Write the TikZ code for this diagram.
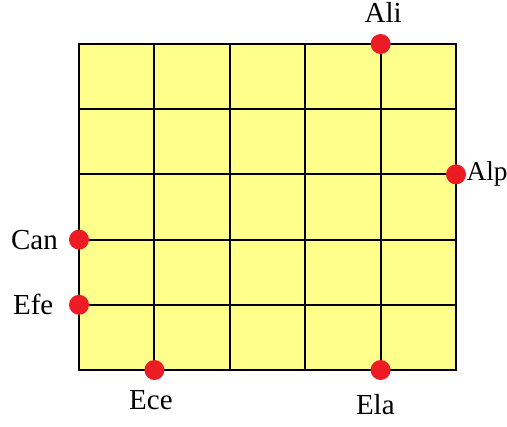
\documentclass[tikz,border=0pt]{standalone}
\usepackage{fontspec}
\setmainfont{Liberation Serif}
\usepackage{xcolor}
\usepackage{tikz}
\usetikzlibrary{
  positioning
}
\definecolor{boardyellow}{RGB}{255,255,140}
\definecolor{kidred}{RGB}{237,28,36}
\tikzset{
  gridline/.style={draw=black,line width=1.1pt},
  kid/.style={
    circle,
    fill=kidred,
    minimum size=0.4cm,
    inner sep=0pt
  },
  kidname/.style={
    inner sep=0pt,
    font=\fontsize{16.5}{19}\selectfont
  },
}

\begin{document}
\begin{tikzpicture}
  \useasboundingbox (0,0) rectangle (10.14,8.52);
  \begin{scope}[shift={(1.58,1.12)},x=1.508cm,y=1.304cm]
    % Board
    \fill[boardyellow] (0,0) rectangle (5,5);
    \foreach \i in {1,...,4} {
      \draw[gridline] (\i,0) -- (\i,5);
      \draw[gridline] (0,\i) -- (5,\i);
    }
    \draw[gridline] (0,0) rectangle (5,5);

    % Children on the edges
    \node[kid] (aliDot) at (4,5) {};
    \node[kid] (alpDot) at (5,3) {};
    \node[kid] (canDot) at (0,2) {};
    \node[kid] (efeDot) at (0,1) {};
    \node[kid] (eceDot) at (1,0) {};
    \node[kid] (elaDot) at (4,0) {};
  \end{scope}

  % Names
  \node[kidname,above=6pt of aliDot,xshift=1.5pt] (aliName) {Ali};
  \node[kidname,right=0pt of alpDot,font=\fontsize{15.5}{18}\selectfont] (alpName) {Alp};
  \node[kidname,left=6pt of canDot] (canName) {Can};
  \node[kidname,left=8.5pt of efeDot] (efeName) {Efe};
  \node[kidname,below=5.5pt of eceDot,xshift=-2pt] (eceName) {Ece};
  \node[kidname,below=7.5pt of elaDot,xshift=-3pt] (elaName) {Ela};
\end{tikzpicture}
\end{document}
